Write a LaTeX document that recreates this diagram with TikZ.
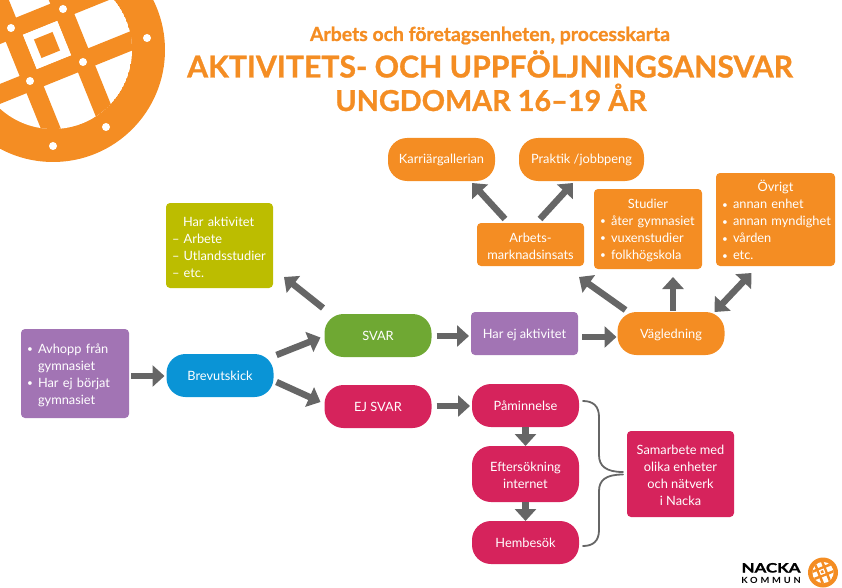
\documentclass[tikz,border=0pt]{standalone}
\usepackage{fontspec}
\setmainfont{Lato}
\newfontfamily\spaced[LetterSpace=30]{Lato}
\newfontfamily\ttlf[BoldFeatures={FakeBold=1}]{Lato}
\usetikzlibrary{arrows.meta,calc}
\definecolor{orng}{HTML}{F48D23}
\definecolor{purp}{HTML}{A274B4}
\definecolor{blu}{HTML}{0A94D6}
\definecolor{grn}{HTML}{6FA833}
\definecolor{crim}{HTML}{D6235C}
\definecolor{oliv}{HTML}{BCBD00}
\definecolor{gry}{HTML}{666666}
\newcommand{\bl}[1]{\mbox{\makebox[11pt][l]{\fontsize{10}{10}\selectfont\raisebox{0.6pt}{•}}#1}}
\newcommand{\nb}[1]{\hspace*{11pt}#1}
\newcommand{\ttl}[1]{\makebox[\linewidth][c]{#1}}
\newcommand{\up}{\rule{0pt}{12.5pt}}
\tikzset{
  x=1pt,y=-1pt,
  base/.style={draw=none,text=white,inner sep=0pt,outer sep=0pt,align=center,
     font=\fontsize{12.8}{17}\selectfont},
  one/.style={text height=9.5pt,text depth=0.5pt},
  pill/.style={base,one,rounded corners=19pt,minimum width=#1,minimum height=43pt},
  pill/.default=107pt,
  boxn/.style 2 args={base,rounded corners=4pt,minimum width=#1,minimum height=#2},
  arw/.style={draw=gry,line width=6.5pt,-{Triangle[length=12pt,width=21pt]}},
  arwd/.style={draw=gry,line width=6.5pt,{Triangle[length=12pt,width=21pt]}-{Triangle[length=12pt,width=21pt]}},
  brc/.style={draw=gry,line width=1.8pt,line cap=round},
  titl/.style={text=orng,inner sep=0pt,anchor=base},
}
\begin{document}
\begin{tikzpicture}
\useasboundingbox (0,0) rectangle (842,588);
\begin{scope}
\clip (0,0) rectangle (842,588);
% emblem
\fill[orng] (53,50) circle[radius=112];
\begin{scope}
\clip (53,50) circle[radius=79];
\fill[white] (53,50) circle[radius=79];
\begin{scope}[shift={(47,45)},rotate=22]
\fill[orng] (18.5,-200) rectangle (37,200);
\fill[orng] (-37,-200) rectangle (-18.5,200);
\fill[orng] (-200,18.5) rectangle (200,37);
\fill[orng] (-200,-37) rectangle (200,-18.5);
\fill[white] (-18.5,-18.5) rectangle (18.5,18.5);
\fill[orng] (-10,-10) rectangle (10,10);
\end{scope}
\end{scope}
\foreach \p in {(11,28),(63,9),(83,62),(30,81),(147,38),(106,127),(53,146)}
  \fill[white] \p circle[radius=4];
\end{scope}
% titles
\node[titl,font=\fontsize{19.4}{22}\ttlf\bfseries\selectfont] (t1) at (490,41) {Arbets och företagsenheten, processkarta};
\node[titl,font=\fontsize{30.2}{32}\ttlf\bfseries\selectfont] (t2) at (490,77.5) {AKTIVITETS- OCH UPPFÖLJNINGSANSVAR};
\node[titl,font=\fontsize{28.8}{32}\ttlf\bfseries\selectfont] (t3) at (491,111) {UNGDOMAR 16–19 ÅR};
% nodes
\node[boxn={108pt}{89pt},fill=purp,text width=96pt,align=left] (av) at (75,373.5)
  {\up\bl{Avhopp från}\\\nb{gymnasiet}\\\bl{Har ej börjat}\\\nb{gymnasiet}};
\node[pill,fill=blu] (brev) at (220,375.5) {Brevutskick};
\node[pill,fill=grn] (svar) at (378,335.5) {SVAR};
\node[pill,fill=crim] (ej) at (378,406.5) {EJ SVAR};
\node[boxn={107pt}{85pt},fill=oliv,text width=95pt,align=left] (har) at (219.5,245.5)
  {\up\hspace*{11pt}Har aktivitet\\– Arbete\\– Utlandsstudier\\– etc.};
\node[boxn={107pt}{43pt},one,fill=purp] (ejak) at (524.5,333.5) {Har ej aktivitet};
\node[pill,fill=orng] (vag) at (671,333.5) {Vägledning};
\node[boxn={107pt}{43pt},fill=orng] (arb) at (530.5,244.5) {\up Arbets-\\marknadsinsats};
\node[boxn={108pt}{80pt},fill=orng,text width=96pt,align=left] (stu) at (648,229)
  {\up\ttl{Studier}\\\bl{åter gymnasiet}\\\bl{vuxenstudier}\\\bl{folkhögskola}};
\node[boxn={119pt}{93pt},fill=orng,text width=107pt,align=left] (ovr) at (775.5,219.5)
  {\up\ttl{Övrigt}\\\bl{annan enhet}\\\bl{annan myndighet}\\\bl{vården}\\\bl{etc.}};
\node[pill,fill=orng] (kar) at (441.5,159.5) {Karriärgallerian};
\node[pill=125pt,fill=orng] (pra) at (581.5,159.5) {Praktik /jobbpeng};
\node[pill,fill=crim] (pam) at (525.5,405.5) {Påminnelse};
\node[base,rounded corners=19pt,minimum width=107pt,minimum height=56pt,fill=crim] (eft) at (525.5,474) {\up Eftersökning\\internet};
\node[pill,fill=crim] (hem) at (525.5,542.5) {Hembesök};
\node[boxn={107pt}{86pt},fill=crim] (sam) at (680.5,474) {\up Samarbete med\\olika enheter\\och nätverk\\i Nacka};
% connectors
\draw[arw] ([shift={(2,2.5)}]av.east) -- ([shift={(-2,0.5)}]brev.west);
\draw[arw] ([shift={(3,1)}]brev.north east) -- ([shift={(-4,2)}]svar.west);
\draw[arw] ([shift={(3,-15)}]brev.south east) -- ([shift={(-4,-4.5)}]ej.west);
\draw[arw] ([shift={(-1.5,-6)}]svar.north west) -- ([shift={(11,-11)}]har.south east);
\draw[arw] ([shift={(5,0.5)}]svar.east) -- ([shift={(-2,2.5)}]ejak.west);
\draw[arw] ([shift={(5,-0.5)}]ej.east) -- ([shift={(-2,0.5)}]pam.west);
\draw[arw] ([shift={(4,3.5)}]ejak.east) -- ([shift={(-1,3.5)}]vag.west);
\draw[arw] ([shift={(8,-2)}]vag.north west) -- ([shift={(-5,11)}]arb.south east);
\draw[arw] ([shift={(2,-1)}]vag.north) -- ([shift={(25,8)}]stu.south);
\draw[arwd] ([shift={(-10,0)}]vag.north east) -- ([shift={(-24,7)}]ovr.south);
\draw[arw] ([shift={(28,-4)}]arb.north west) -- ([shift={(30.5,2)}]kar.south);
\draw[arw] ([shift={(-44,-4)}]arb.north east) -- ([shift={(-8.5,2)}]pra.south);
\draw[arw] (pam.south) -- (eft.north);
\draw[arw] (eft.south) -- (hem.north);
% brace
\coordinate (bj) at ([shift={(-4,-2)}]sam.west);
\coordinate (bk) at ([shift={(-4,0.5)}]sam.west);
\coordinate (bp) at ([shift={(4,-4.5)}]pam.east);
\coordinate (bh) at ([shift={(4,3.5)}]hem.east);
\draw[brc] (bp) .. controls (593,401) and (599,406) .. (599,417) -- (599,455) .. controls (599,466) and (606,472) .. (bj);
\draw[brc] (bh) .. controls (593,546) and (599,541) .. (599,530) -- (599,491) .. controls (599,480) and (606,474.5) .. (bk);
% logo
\node[font=\fontsize{13}{15}\ttlf\bfseries\selectfont,text=black,inner sep=0pt,anchor=base] (n1) at (771,572.5) {\scalebox{1.3}[1]{NACKA}};
\node[font=\fontsize{8.5}{9}\spaced\bfseries\selectfont,text=black,inner sep=0pt,anchor=base] (n2) at (771,583) {\scalebox{1.1}[1]{KOMMUN}};
\fill[orng] (823,572.5) circle[radius=15];
\begin{scope}
\clip (823,572.5) circle[radius=10.6];
\fill[white] (823,572.5) circle[radius=10.6];
\begin{scope}[shift={(822.2,571.8)},rotate=22]
\fill[orng] (2.5,-30) rectangle (5,30);
\fill[orng] (-5,-30) rectangle (-2.5,30);
\fill[orng] (-30,2.5) rectangle (30,5);
\fill[orng] (-30,-5) rectangle (30,-2.5);
\fill[white] (-2.5,-2.5) rectangle (2.5,2.5);
\fill[orng] (-1.3,-1.3) rectangle (1.3,1.3);
\end{scope}
\end{scope}
\end{tikzpicture}
\end{document}
